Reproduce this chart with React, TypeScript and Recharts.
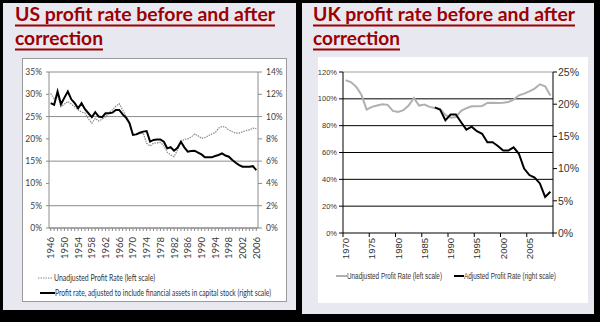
import React from 'react'
import { LineChart, Line, XAxis, YAxis, CartesianGrid, ReferenceLine } from 'recharts'

// ---- US panel data ----
const usYears = [
  1946, 1947, 1948, 1949, 1950, 1951, 1952, 1953, 1954, 1955, 1956, 1957, 1958, 1959, 1960,
  1961, 1962, 1963, 1964, 1965, 1966, 1967, 1968, 1969, 1970, 1971, 1972, 1973, 1974, 1975,
  1976, 1977, 1978, 1979, 1980, 1981, 1982, 1983, 1984, 1985, 1986, 1987, 1988, 1989, 1990,
  1991, 1992, 1993, 1994, 1995, 1996, 1997, 1998, 1999, 2000, 2001, 2002, 2003, 2004, 2005,
  2006,
]
// unadjusted profit rate, left scale (%)
const usUnadjusted = [
  30.2, 29.0, 29.8, 27.2, 27.8, 28.4, 27.8, 27.2, 26.5, 26.0, 25.8, 24.5, 23.5, 24.6, 24.0,
  24.4, 25.0, 25.8, 26.5, 27.3, 27.9, 26.5, 25.0, 23.5, 21.0, 21.0, 21.2, 21.3, 19.0, 18.4,
  19.0, 19.1, 19.2, 18.5, 17.0, 16.4, 16.0, 17.5, 19.4, 19.9, 20.0, 20.4, 21.1, 20.7, 20.1,
  20.3, 20.7, 21.1, 21.4, 22.4, 22.8, 22.6, 22.0, 21.6, 21.3, 21.3, 21.6, 21.85, 22.0, 22.4,
  22.3,
]
// adjusted profit rate, right scale (%)
const usAdjusted = [
  11.2, 11.05, 12.25, 11.1, 11.7, 12.25, 11.55, 11.2, 10.75, 11.2, 10.66, 10.3, 9.95, 10.4, 10.0,
  9.95, 10.3, 10.3, 10.35, 10.6, 10.6, 10.2, 9.9, 9.4, 8.35, 8.4, 8.55, 8.65, 8.7, 7.75,
  7.9, 7.95, 7.95, 7.75, 7.15, 7.25, 6.94, 7.2, 7.75, 7.24, 6.85, 6.9, 6.94, 6.76, 6.6,
  6.34, 6.34, 6.34, 6.46, 6.55, 6.7, 6.5, 6.4, 6.1, 5.85, 5.65, 5.5, 5.5, 5.5, 5.55,
  5.2,
]
const usLeftTicks = [0, 5, 10, 15, 20, 25, 30, 35]
const usRightTicks = [0, 2, 4, 6, 8, 10, 12, 14]
const usYearLabels = [1946, 1950, 1954, 1958, 1962, 1966, 1970, 1974, 1978, 1982, 1986, 1990, 1994, 1998, 2002, 2006]

// ---- UK panel data ----
const ukYears = [
  1970, 1971, 1972, 1973, 1974, 1975, 1976, 1977, 1978, 1979, 1980, 1981, 1982, 1983, 1984,
  1985, 1986, 1987, 1988, 1989, 1990, 1991, 1992, 1993, 1994, 1995, 1996, 1997, 1998, 1999,
  2000, 2001, 2002, 2003, 2004, 2005, 2006, 2007, 2008, 2009,
]
const ukUnadjusted = [
  113.8, 112.5, 109, 103, 92, 94, 95, 96, 95.5, 91, 90.2, 91.5, 95, 100.6, 95,
  95.7, 94, 93.2, 92.5, 88, 86, 86.5, 91, 93, 94.4, 94.4, 94.7, 96.9, 97.1, 96.9,
  97.1, 97.6, 99.4, 102.6, 103.9, 105.6, 107.6, 110.8, 109.3, 102.5,
]
const ukAdjusted = [
  null, null, null, null, null, null, null, null, null, null, null, null, null, null, null,
  null, null, 19.5, 19.15, 17.5, 18.4, 18.4, 17.2, 16.05, 16.5, 15.8, 15.4, 14.1, 14.1, 13.5,
  12.8, 12.8, 13.3, 12.3, 10.0, 9.0, 8.6, 7.7, 5.6, 6.4,
]
const ukLeftTicks = [0, 20, 40, 60, 80, 100, 120]
const ukRightTicks = [0, 5, 10, 15, 20, 25]
const ukYearLabels = [1970, 1975, 1980, 1985, 1990, 1995, 2000, 2005]
const ukLastYear = ukYears[ukYears.length - 1]

const usData = usYears.map((year, i) => ({ year, unadjusted: usUnadjusted[i], adjusted: usAdjusted[i] }))
const ukData = ukYears.map((year, i) => ({ year, unadjusted: ukUnadjusted[i], adjusted: ukAdjusted[i] }))

const pct = (v: number) => `${v}%`

const US_W = 265
const US_H = 244
const UK_W = 270
const UK_H = 246
const UK_LEFT_W = 25
const UK_RIGHT_W = 35
const ukHalfBand = (UK_W - UK_LEFT_W - UK_RIGHT_W) / ukYears.length / 2

// rotated year label, reading bottom to top, its end against the axis
function YearLabel({ x, y, text, size, font, fill }: any) {
  return (
    <text
      x={x}
      y={y}
      transform={`rotate(-90 ${x} ${y})`}
      textAnchor="end"
      dominantBaseline="central"
      fontSize={size}
      fontFamily={font}
      fill={fill}
    >
      {text}
    </text>
  )
}

const UsYearTick = (props: any) => {
  const { x, y, payload } = props
  if (!usYearLabels.includes(payload.value)) return <g />
  return <YearLabel x={x} y={y} text={String(payload.value)} size={9.5} font="Lato" fill="#404040" />
}

// UK: tick marks sit on the category boundaries, labels on the category centres
const UkYearTick = (props: any) => {
  const { x, y, payload } = props
  const year = payload.value
  const cx = Number(x)
  const cy = Number(y)
  const markX = year === ukLastYear ? cx + ukHalfBand : cx - ukHalfBand
  return (
    <g>
      <line x1={markX} x2={markX} y1={cy} y2={cy + 4} stroke="#000" />
      {ukYearLabels.includes(year) && (
        <YearLabel x={cx} y={cy + 5} text={String(year)} size={9.5} font="Liberation Sans" fill="#333" />
      )}
    </g>
  )
}

function UsChart() {
  return (
    <LineChart
      width={US_W}
      height={US_H}
      data={usData}
      margin={{ top: 14, right: 0, left: 0, bottom: 40 }}
      style={{ fontFamily: 'Lato' }}
    >
      <CartesianGrid yAxisId="left" vertical={false} stroke="#8c8c8c" />
      <XAxis
        dataKey="year"
        type="number"
        domain={[1945.5, 2006.5]}
        ticks={usYears}
        interval={0}
        height={34}
        tickSize={3}
        tickMargin={6}
        axisLine={{ stroke: '#8c8c8c' }}
        tickLine={{ stroke: '#8c8c8c' }}
        tick={UsYearTick}
      />
      <YAxis
        yAxisId="left"
        width={27}
        domain={[0, 35]}
        ticks={usLeftTicks}
        tickFormatter={pct}
        tickSize={3}
        tickMargin={4}
        axisLine={{ stroke: '#8c8c8c' }}
        tickLine={{ stroke: '#8c8c8c' }}
        tick={{ fontSize: 8.5, fill: '#404040', fontFamily: 'Lato' }}
      />
      <YAxis
        yAxisId="right"
        orientation="right"
        width={29}
        domain={[0, 14]}
        ticks={usRightTicks}
        tickFormatter={pct}
        tickSize={4}
        tickMargin={4}
        axisLine={{ stroke: '#8c8c8c' }}
        tickLine={{ stroke: '#8c8c8c' }}
        tick={{ fontSize: 8.5, fill: '#404040', fontFamily: 'Lato' }}
      />
      <Line
        yAxisId="left"
        dataKey="unadjusted"
        stroke="#8a8a8a"
        strokeWidth={1.2}
        strokeDasharray="1.5 1"
        dot={false}
        isAnimationActive={false}
      />
      <Line
        yAxisId="right"
        dataKey="adjusted"
        stroke="#000"
        strokeWidth={2}
        dot={false}
        isAnimationActive={false}
      />
    </LineChart>
  )
}

function UkChart() {
  return (
    <LineChart
      width={UK_W}
      height={UK_H}
      data={ukData}
      margin={{ top: 15, right: 0, left: 0, bottom: 36 }}
      style={{ fontFamily: 'Liberation Sans' }}
    >
      <CartesianGrid
        yAxisId="left"
        vertical={false}
        horizontalValues={[20, 40, 60, 80, 100]}
        stroke="#000"
      />
      <ReferenceLine yAxisId="left" y={120} stroke="#a0a0a0" />
      <XAxis
        dataKey="year"
        type="number"
        domain={[1969.5, 2009.5]}
        ticks={[...ukYearLabels, ukLastYear]}
        interval={0}
        height={34}
        tickSize={0}
        tickMargin={0}
        axisLine={{ stroke: '#000' }}
        tickLine={false}
        tick={UkYearTick}
      />
      <YAxis
        yAxisId="left"
        width={UK_LEFT_W}
        domain={[0, 120]}
        ticks={ukLeftTicks}
        tickFormatter={pct}
        tickSize={4}
        tickMargin={2}
        axisLine={{ stroke: '#000' }}
        tickLine={{ stroke: '#000' }}
        tick={{ fontSize: 7.5, fill: '#333', fontFamily: 'Liberation Sans' }}
      />
      <YAxis
        yAxisId="right"
        orientation="right"
        width={UK_RIGHT_W}
        domain={[0, 25]}
        ticks={ukRightTicks}
        tickFormatter={pct}
        tickSize={4}
        tickMargin={1}
        axisLine={{ stroke: '#000' }}
        tickLine={{ stroke: '#000' }}
        tick={{ fontSize: 10.5, fill: '#333', fontFamily: 'Liberation Sans' }}
      />
      <Line
        yAxisId="left"
        dataKey="unadjusted"
        stroke="#b0b0b0"
        strokeWidth={2}
        dot={false}
        isAnimationActive={false}
      />
      <Line
        yAxisId="right"
        dataKey="adjusted"
        stroke="#000"
        strokeWidth={2}
        dot={false}
        connectNulls={false}
        isAnimationActive={false}
      />
    </LineChart>
  )
}

const titleColor = '#9c0000'

// text squeezed horizontally (the source image is narrower than its fonts)
function Squeezed({ x, y, w, s, text, ...rest }: any) {
  return (
    <text
      transform={`translate(${x} ${y}) scale(${s} 1)`}
      x={0}
      y={0}
      textLength={w / s}
      lengthAdjust="spacingAndGlyphs"
      {...rest}
    >
      {text}
    </text>
  )
}

function TitleText({ x, y, w, text }: { x: number; y: number; w: number; text: string }) {
  return (
    <g>
      <Squeezed
        x={x}
        y={y}
        w={w}
        s={0.85}
        text={text}
        fontFamily="Lato"
        fontWeight="bold"
        fontSize={19.5}
        fill={titleColor}
      />
      <rect x={x} y={y + 3.5} width={w} height={2} fill={titleColor} />
    </g>
  )
}

export default function App() {
  const abs = (left: number, top: number, width: number, height: number, extra: any = {}) => ({
    position: 'absolute' as const,
    left,
    top,
    width,
    height,
    ...extra,
  })
  return (
    <div style={abs(0, 0, 600, 322, { background: '#000', overflow: 'hidden' })}>
      <div style={abs(3, 3, 293, 307, { background: '#e8e8f0' })} />
      <div style={abs(302, 3, 292, 311, { background: '#e8e8f0' })} />
      <div style={abs(22, 58, US_W, US_H, { background: '#fff', border: '1px solid #9a9a9a', boxSizing: 'border-box' })} />
      <div style={abs(318, 57, UK_W, UK_H, { background: '#fff' })} />
      <div style={abs(22, 58, US_W, US_H)}>
        <UsChart />
      </div>
      <div style={abs(318, 57, UK_W, UK_H)}>
        <UkChart />
      </div>
      <svg width={600} height={322} style={abs(0, 0, 600, 322, { pointerEvents: 'none' })}>
        <TitleText x={15} y={21} w={260} text="US profit rate before and after" />
        <TitleText x={15} y={45} w={88} text="correction" />
        <TitleText x={313} y={21} w={262} text="UK profit rate before and after" />
        <TitleText x={313} y={45} w={87} text="correction" />

        <g fontFamily="Lato" fontSize={9.5} fill="#333">
          <line x1={38} x2={52} y1={278} y2={278} stroke="#8a8a8a" strokeWidth={1.2} strokeDasharray="1.5 1" />
          <Squeezed x={54} y={281} w={101} s={0.74} text="Unadjusted Profit Rate (left scale)" />
          <line x1={40} x2={55} y1={293} y2={293} stroke="#000" strokeWidth={2} />
          <Squeezed
            x={55}
            y={296}
            w={216}
            s={0.72}
            text="Profit rate, adjusted to include financial assets in capital stock (right scale)"
          />
        </g>

        <g fontFamily="Liberation Sans" fontSize={9.5} fill="#333">
          <line x1={336} x2={347} y1={276} y2={276} stroke="#b0b0b0" strokeWidth={2} />
          <Squeezed x={347} y={279} w={95} s={0.68} text="Unadjusted Profit Rate (left scale)" />
          <line x1={454} x2={464} y1={276} y2={276} stroke="#000" strokeWidth={2} />
          <Squeezed x={464} y={279} w={92} s={0.68} text="Adjusted Profit Rate (right scale)" />
        </g>
      </svg>
    </div>
  )
}
